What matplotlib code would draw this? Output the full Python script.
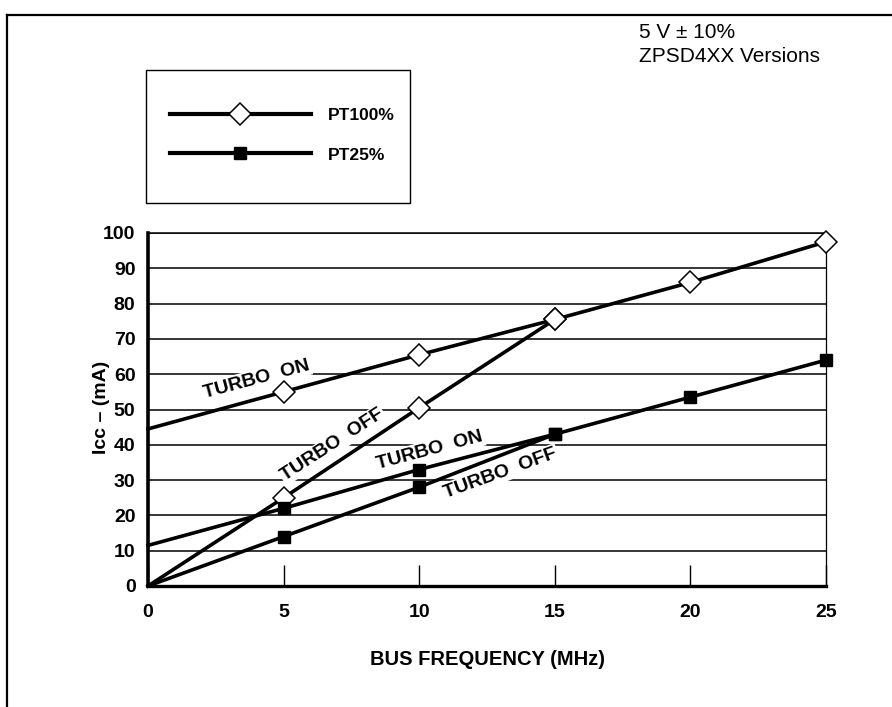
import matplotlib.pyplot as plt
from matplotlib.lines import Line2D
from matplotlib.patches import Rectangle

plt.rcParams['font.family'] = ['Liberation Sans', 'DejaVu Sans']

# data (Icc in mA vs bus frequency in MHz)
freq = [0, 5, 10, 15, 20, 25]
freq_short = [0, 5, 10, 15]
pt100_turbo_on = [44.5, 55, 65.5, 75.5, 86, 97.5]
pt100_turbo_off = [0, 25, 50.5, 75.5]
pt25_turbo_on = [11.5, 22, 33, 43]
pt25_turbo_off = [0, 14, 28, 43, 53.5, 64]

x_ticks = [0, 5, 10, 15, 20, 25]
y_ticks = [0, 10, 20, 30, 40, 50, 60, 70, 80, 90, 100]

fig = plt.figure(figsize=(8.92, 7.07), dpi=100)
ax = fig.add_axes([148 / 892, 1 - 586 / 707, 678 / 892, 353 / 707])

ax.set_xlim(0, 25)
ax.set_ylim(0, 100)
ax.set_xticks(x_ticks)
ax.set_yticks(y_ticks)
ax.set_xticklabels([str(t) for t in x_ticks], fontweight='bold', fontsize=14)
ax.set_yticklabels([str(t) for t in y_ticks], fontweight='bold', fontsize=14)
ax.tick_params(axis='x', direction='in', length=15, width=1.0, pad=13)
ax.tick_params(axis='y', length=0, pad=9)

ax.grid(axis='y', color='black', linewidth=1.1)
ax.set_axisbelow(True)
ax.spines['left'].set_linewidth(2.6)
ax.spines['bottom'].set_linewidth(2.4)
ax.spines['right'].set_linewidth(0.9)
ax.spines['top'].set_linewidth(1.1)

lw = 2.6
diamond = dict(marker='D', markersize=11, markerfacecolor='white',
               markeredgecolor='black', markeredgewidth=1.1)
square = dict(marker='s', markersize=9, markerfacecolor='black',
              markeredgecolor='black')

ax.plot(freq, pt100_turbo_on, color='black', lw=lw, markevery=slice(1, None),
        zorder=3, clip_on=False, **diamond)
ax.plot(freq_short, pt100_turbo_off, color='black', lw=lw, markevery=slice(1, None),
        zorder=3, clip_on=False, **diamond)
ax.plot(freq_short, pt25_turbo_on, color='black', lw=lw, markevery=slice(1, None),
        zorder=3, clip_on=False, **square)
ax.plot(freq, pt25_turbo_off, color='black', lw=lw, markevery=slice(1, None),
        zorder=3, clip_on=False, **square)

label_box = dict(facecolor='white', edgecolor='none', pad=1)
labels = [
    ('TURBO  ON', 4.0, 58.6, 15),
    ('TURBO  OFF', 6.8, 40, 33),
    ('TURBO  ON', 10.4, 38.5, 15),
    ('TURBO  OFF', 13.0, 32, 20),
]
for txt, x, y, rot in labels:
    ax.text(x, y, txt, rotation=rot, ha='center', va='center', fontsize=14,
            fontweight='bold', bbox=label_box, zorder=2.5,
            rotation_mode='anchor')

ax.set_xlabel('BUS FREQUENCY (MHz)', fontsize=14.5, fontweight='bold')
ax.xaxis.set_label_coords(0.5, (586 - 650) / 353)
ax.set_ylabel('Icc – (mA)', fontsize=14, fontweight='bold')
ax.yaxis.set_label_coords((110 - 148) / 678, (586 - 407) / 353)

# outer frame (top and left edges only visible)
fig.add_artist(Line2D([7 / 892, 1], [1 - 15 / 707, 1 - 15 / 707], color='black', lw=1.6))
fig.add_artist(Line2D([7 / 892, 7 / 892], [0, 1 - 15 / 707], color='black', lw=1.6))

fig.text(639 / 892, 1 - 33 / 707, '5 V ± 10%', fontsize=15, va='center')
fig.text(639 / 892, 1 - 57 / 707, 'ZPSD4XX Versions', fontsize=15, va='center')

# legend box
fig.add_artist(Rectangle((146 / 892, 1 - 203 / 707), 264 / 892, 133 / 707,
                         transform=fig.transFigure, fill=False,
                         edgecolor='black', lw=1.0))
handles = [
    Line2D([], [], color='black', lw=3, **diamond),
    Line2D([], [], color='black', lw=3, **square),
]
fig.legend(handles, ['PT100%', 'PT25%'], loc='upper left',
           bbox_to_anchor=(156 / 892, 1 - 94 / 707), frameon=False,
           handlelength=8.1, handletextpad=1.0, labelspacing=1.4,
           prop={'weight': 'bold', 'size': 12.5}, borderpad=0.3)

fig.savefig('out.png', dpi=100)
